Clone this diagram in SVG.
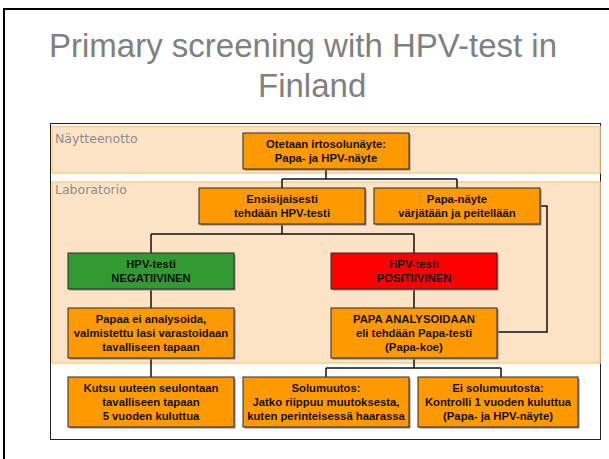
<svg xmlns="http://www.w3.org/2000/svg" width="609" height="459" viewBox="0 0 609 459">
<defs>
<style>
.title{font-family:"Liberation Sans",Arial,sans-serif;font-size:33px;fill:#808080}
.lane{font-family:"DejaVu Sans",Verdana,sans-serif;font-size:12.5px;fill:#8c8c8c}
.band{fill:#FDE3C5;stroke:#F9CF8A;stroke-width:1.5}
.box{stroke:#2a2a2a;stroke-width:1}
.sh{fill:#8a8a8a}
.o{fill:#FF9900}
.g{fill:#339933}
.r{fill:#FF0000}
.t{font-family:"Liberation Sans",Arial,sans-serif;font-size:11.3px;font-weight:bold;fill:#111;text-anchor:middle}
.c{fill:none;stroke:#111;stroke-width:1.5}
</style>
</defs>
<rect width="609" height="459" fill="#fff"/>
<path d="M4,459 V9 H609" fill="none" stroke="#000" stroke-width="2"/>
<text class="title" x="49" y="57">Primary screening with HPV-test in</text>
<text class="title" x="258" y="97">Finland</text>
<rect x="50.5" y="123.5" width="550" height="316" fill="#fff" stroke="#222" stroke-width="1"/>
<rect class="band" x="52" y="126.5" width="548" height="46.5"/>
<rect class="band" x="52" y="182" width="548" height="181"/>
<text class="lane" x="55" y="143">Näytteenotto</text>
<text class="lane" x="55" y="194">Laboratorio</text>
<g id="connectors">
<path class="c" d="M326,169 V179 M282,179 H457 M282,179 V188 M457,179 V188"/>
<path class="c" d="M282,224 V234 M151,234 H414 M151,234 V253 M414,234 V253"/>
<path class="c" d="M151,289 V308 M414,289 V308 M151,358 V377"/>
<path class="c" d="M540,206 H547 V332 H497"/>
<path class="c" d="M414,358 V368 M326,368 H501 M326,368 V377 M501,368 V377"/>
</g>
<g id="n1"><rect class="sh" x="244.5" y="134.5" width="166" height="36"/><rect class="box o" x="243" y="133" width="166" height="36"/><text class="t" x="326" y="147.5">Otetaan irtosolunäyte:</text><text class="t" x="326" y="161.5">Papa- ja HPV-näyte</text></g>
<g id="n2"><rect class="sh" x="200.5" y="189.5" width="166" height="36"/><rect class="box o" x="199" y="188" width="166" height="36"/><text class="t" x="282" y="202.5">Ensisijaisesti</text><text class="t" x="282" y="216.5">tehdään HPV-testi</text></g>
<g id="n3"><rect class="sh" x="375.5" y="189.5" width="166" height="36"/><rect class="box o" x="374" y="188" width="166" height="36"/><text class="t" x="457" y="202.5">Papa-näyte</text><text class="t" x="457" y="216.5">värjätään ja peitellään</text></g>
<g id="n4"><rect class="sh" x="69.5" y="254.5" width="166" height="36"/><rect class="box g" x="68" y="253" width="166" height="36"/><text class="t" x="151" y="267.5">HPV-testi</text><text class="t" x="151" y="281.5">NEGATIIVINEN</text></g>
<g id="n5"><rect class="sh" x="332.5" y="254.5" width="166" height="36"/><rect class="box r" x="331" y="253" width="166" height="36"/><text class="t" x="414" y="267.5">HPV-testi</text><text class="t" x="414" y="281.5">POSITIIVINEN</text></g>
<g id="n6"><rect class="sh" x="69.5" y="309.5" width="166" height="50"/><rect class="box o" x="68" y="308" width="166" height="50"/><text class="t" x="151" y="322.5">Papaa ei analysoida,</text><text class="t" x="151" y="336.8">valmistettu lasi varastoidaan</text><text class="t" x="151" y="351.1">tavalliseen tapaan</text></g>
<g id="n7"><rect class="sh" x="332.5" y="309.5" width="166" height="50"/><rect class="box o" x="331" y="308" width="166" height="50"/><text class="t" x="414" y="322.5">PAPA ANALYSOIDAAN</text><text class="t" x="414" y="336.8">eli tehdään Papa-testi</text><text class="t" x="414" y="351.1">(Papa-koe)</text></g>
<g id="n8"><rect class="sh" x="69.5" y="378.5" width="166" height="50"/><rect class="box o" x="68" y="377" width="166" height="50"/><text class="t" x="151" y="391.5">Kutsu uuteen seulontaan</text><text class="t" x="151" y="405.8">tavalliseen tapaan</text><text class="t" x="151" y="420.1">5 vuoden kuluttua</text></g>
<g id="n9"><rect class="sh" x="244.5" y="378.5" width="166" height="50"/><rect class="box o" x="243" y="377" width="166" height="50"/><text class="t" x="326" y="391.5">Solumuutos:</text><text class="t" x="326" y="405.8">Jatko riippuu muutoksesta,</text><text class="t" x="326" y="420.1">kuten perinteisessä haarassa</text></g>
<g id="n10"><rect class="sh" x="419.5" y="378.5" width="160" height="50"/><rect class="box o" x="418" y="377" width="160" height="50"/><text class="t" x="498" y="391.5">Ei solumuutosta:</text><text class="t" x="498" y="405.8">Kontrolli 1 vuoden kuluttua</text><text class="t" x="498" y="420.1">(Papa- ja HPV-näyte)</text></g>
</svg>
